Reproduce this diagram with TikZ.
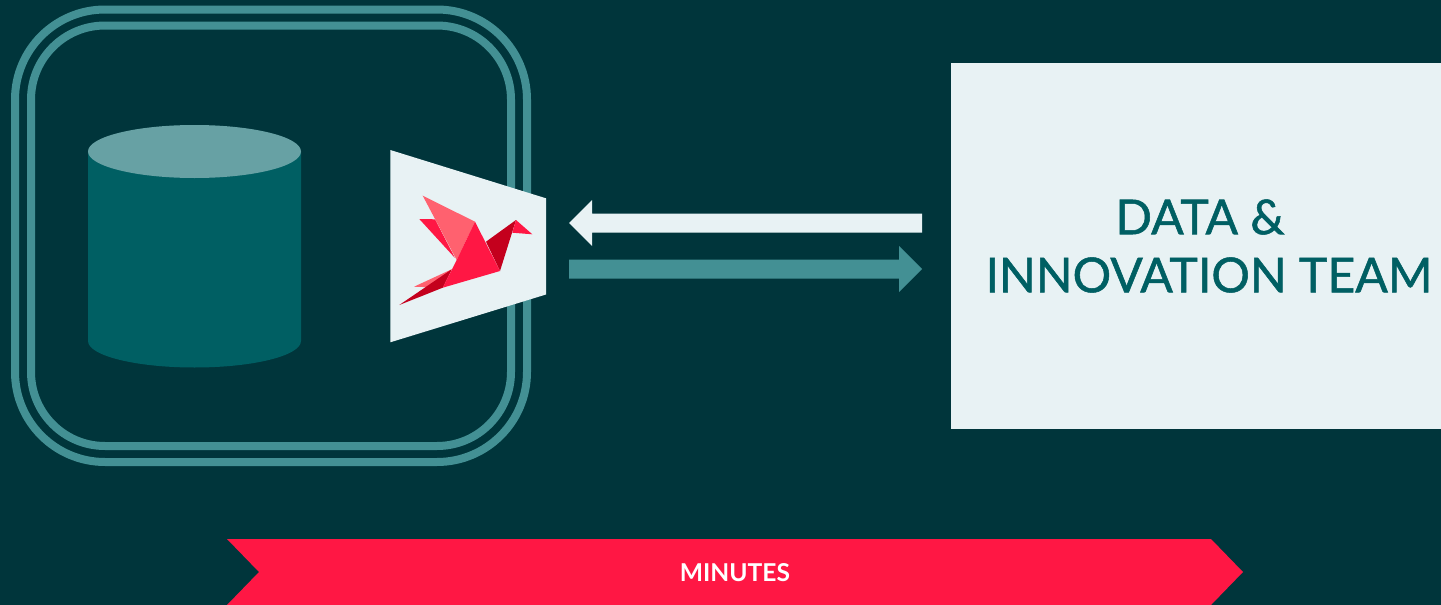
\documentclass[tikz,border=0pt]{standalone}
\usepackage{fontspec}
\setmainfont{Lato}
\newfontfamily\teamfont{Lato}[FakeBold=1.1]
\definecolor{bgdark}{HTML}{00353B}
\definecolor{ringteal}{HTML}{439094}
\definecolor{cyldark}{HTML}{005F63}
\definecolor{cyltop}{HTML}{67A1A4}
\definecolor{paper}{HTML}{E8F2F4}
\definecolor{birdred}{HTML}{FF1744}
\definecolor{birdpale}{HTML}{FF616F}
\definecolor{birddark}{HTML}{C4001D}
\begin{document}
\begin{tikzpicture}[x=0.02cm,y=-0.02cm,line join=miter,
		ring/.style={draw=ringteal,line width=8*0.02cm},
		teamtext/.style={text=cyldark,font=\teamfont\fontsize{27.4}{30}\selectfont,inner sep=0pt}]
	\useasboundingbox (0,0) rectangle (1441,605);
	% 背景
	\fill[bgdark] (0,0) rectangle (1441,605);

	% 双层圆角框
	\draw[ring,rounded corners=90*0.02cm] (15,9.5) rectangle (527,462);
	\draw[ring,rounded corners=74*0.02cm] (31,25.5) rectangle (511,446);

	% 圆柱
	\fill[cyldark] (88,151.5) -- (88,341) arc[start angle=180,end angle=360,x radius=106.5*0.02cm,y radius=26.5*0.02cm] -- (301,151.5) -- cycle;
	\fill[cyltop] (194.5,151.5) ellipse[x radius=106.5*0.02cm,y radius=26.5*0.02cm];

	% 梯形
	\fill[paper] (390.3,150) -- (546,198.3) -- (546,294.5) -- (390.3,342.3) -- cycle;

	% 鸟
	\fill[birdred] (419.3,219) -- (435,219.3) -- (455,258) -- cycle;
	\fill[birdpale] (422.7,195.7) -- (475,221.7) -- (456.7,260) -- cycle;
	\fill[birdpale] (414,286.7) -- (451.7,269.3) -- (442.7,287.7) -- cycle;
	\fill[birddark] (399.3,305) -- (451.7,269.3) -- (442.7,287.7) -- cycle;
	\fill[birddark] (486,241.7) -- (516,220) -- (500,271) -- cycle;
	\fill[birdred] (516,220) -- (532.3,234.3) -- (512.3,232.7) -- cycle;
	\fill[birdred] (475,221.7) -- (500,271) -- (442.7,287.7) -- (456.7,260) -- cycle;

	% 两个箭头
	\fill[paper] (569,223) -- (592,200) -- (592,213.5) -- (922,213.5) -- (922,232.5) -- (592,232.5) -- (592,246) -- cycle;
	\fill[ringteal] (922,269) -- (899,246) -- (899,259.5) -- (569,259.5) -- (569,278.5) -- (899,278.5) -- (899,292) -- cycle;

	% 右侧方框
	\fill[paper] (951,63) rectangle (1441,429);
	\node[teamtext] (data) at (1200,217) {DATA \&};
	\node[teamtext] (team) at (1209,275) {INNOVATION TEAM};

	% 底部红条
	\fill[birdred] (227,539) -- (1211,539) -- (1243,572) -- (1211,605) -- (227,605) -- (259,572) -- cycle;
	\node[text=white,font=\fontsize{14}{16}\selectfont\bfseries,inner sep=0pt] (minutes) at (735,573) {MINUTES};
\end{tikzpicture}
\end{document}
